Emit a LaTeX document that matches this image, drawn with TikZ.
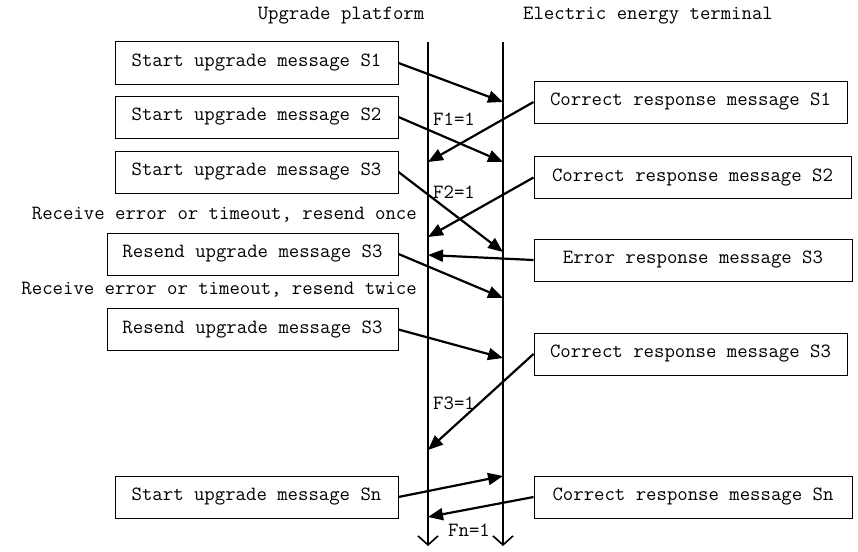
\documentclass[tikz,border=0pt]{standalone}
\usepackage{fontspec}
\usetikzlibrary{arrows.meta}
\begin{document}
\begin{tikzpicture}[x=1pt,y=-1pt,
  txt/.style={font=\ttfamily\fontsize{20.2}{24}\selectfont, inner sep=0pt},
  msgbox/.style={txt, draw, line width=1pt, minimum height=42pt, align=center},
  msg/.style={line width=2.2pt, -{Triangle[length=15pt,width=12pt]}},
  life/.style={line width=2.2pt, -{Straight Barb[length=9pt,width=20pt,line width=1.6pt]}}]
\useasboundingbox (0,0) rectangle (858,551);
% titles
\node[txt] (tl) at (341,16) {Upgrade platform};
\node[txt] (tr) at (648,16) {Electric energy terminal};
% lifelines
\coordinate (LT) at (428,42);
\coordinate (LB) at (428,546);
\coordinate (RT) at (503,42);
\coordinate (RB) at (503,546);
\draw[life] (LT) -- (LB);
\draw[life] (RT) -- (RB);
% left boxes
\node[msgbox, minimum width=283pt] (s1) at (256.5,63) {Start upgrade message S1};
\node[msgbox, minimum width=283pt] (s2) at (256.5,117) {Start upgrade message S2};
\node[msgbox, minimum width=283pt] (s3) at (256.5,172) {Start upgrade message S3};
\node[msgbox, minimum width=291pt] (r1) at (252.5,254) {Resend upgrade message S3};
\node[msgbox, minimum width=291pt] (r2) at (252.5,329.5) {Resend upgrade message S3};
\node[msgbox, minimum width=283pt] (sn) at (256.5,497) {Start upgrade message Sn};
% right boxes
\node[msgbox, minimum width=313pt] (c1) at (690.5,102) {Correct response message S1};
\node[msgbox, minimum width=317pt] (c2) at (692.5,177.5) {Correct response message S2};
\node[msgbox, minimum width=318pt] (e3) at (693,260) {Error response message S3};
\node[msgbox, minimum width=313pt] (c3) at (690.5,354) {Correct response message S3};
\node[msgbox, minimum width=318pt] (cn) at (693,497) {Correct response message Sn};
% notes
\node[txt, anchor=east] (n1) at (417,215) {Receive error or timeout, resend once};
\node[txt, anchor=east] (n2) at (417,290) {Receive error or timeout, resend twice};
\node[txt, anchor=west] (f1) at (433,119) {F1=1};
\node[txt, anchor=west] (f2) at (433,192) {F2=1};
\node[txt, anchor=west] (f3) at (433,403) {F3=1};
\node[txt, anchor=west] (fn) at (448,530) {Fn=1};
% arrow ends
\coordinate (a1) at (503,102);
\coordinate (b1) at (428,162);
\coordinate (a2) at (503,162);
\coordinate (b2) at (428,237);
\coordinate (a3) at (503,252);
\coordinate (b3) at (428,255);
\coordinate (a4) at (503,298);
\coordinate (a5) at (503,358);
\coordinate (b5) at (428,450);
\coordinate (a6) at (503,476);
\coordinate (b6) at (428,517);
% messages
\draw[msg] (s1.east) -- (a1);
\draw[msg] (c1.west) -- (b1);
\draw[msg] (s2.east) -- (a2);
\draw[msg] (c2.west) -- (b2);
\draw[msg] (s3.east) -- (a3);
\draw[msg] (e3.west) -- (b3);
\draw[msg] (r1.east) -- (a4);
\draw[msg] (r2.east) -- (a5);
\draw[msg] (c3.west) -- (b5);
\draw[msg] (sn.east) -- (a6);
\draw[msg] (cn.west) -- (b6);
\end{tikzpicture}
\end{document}
